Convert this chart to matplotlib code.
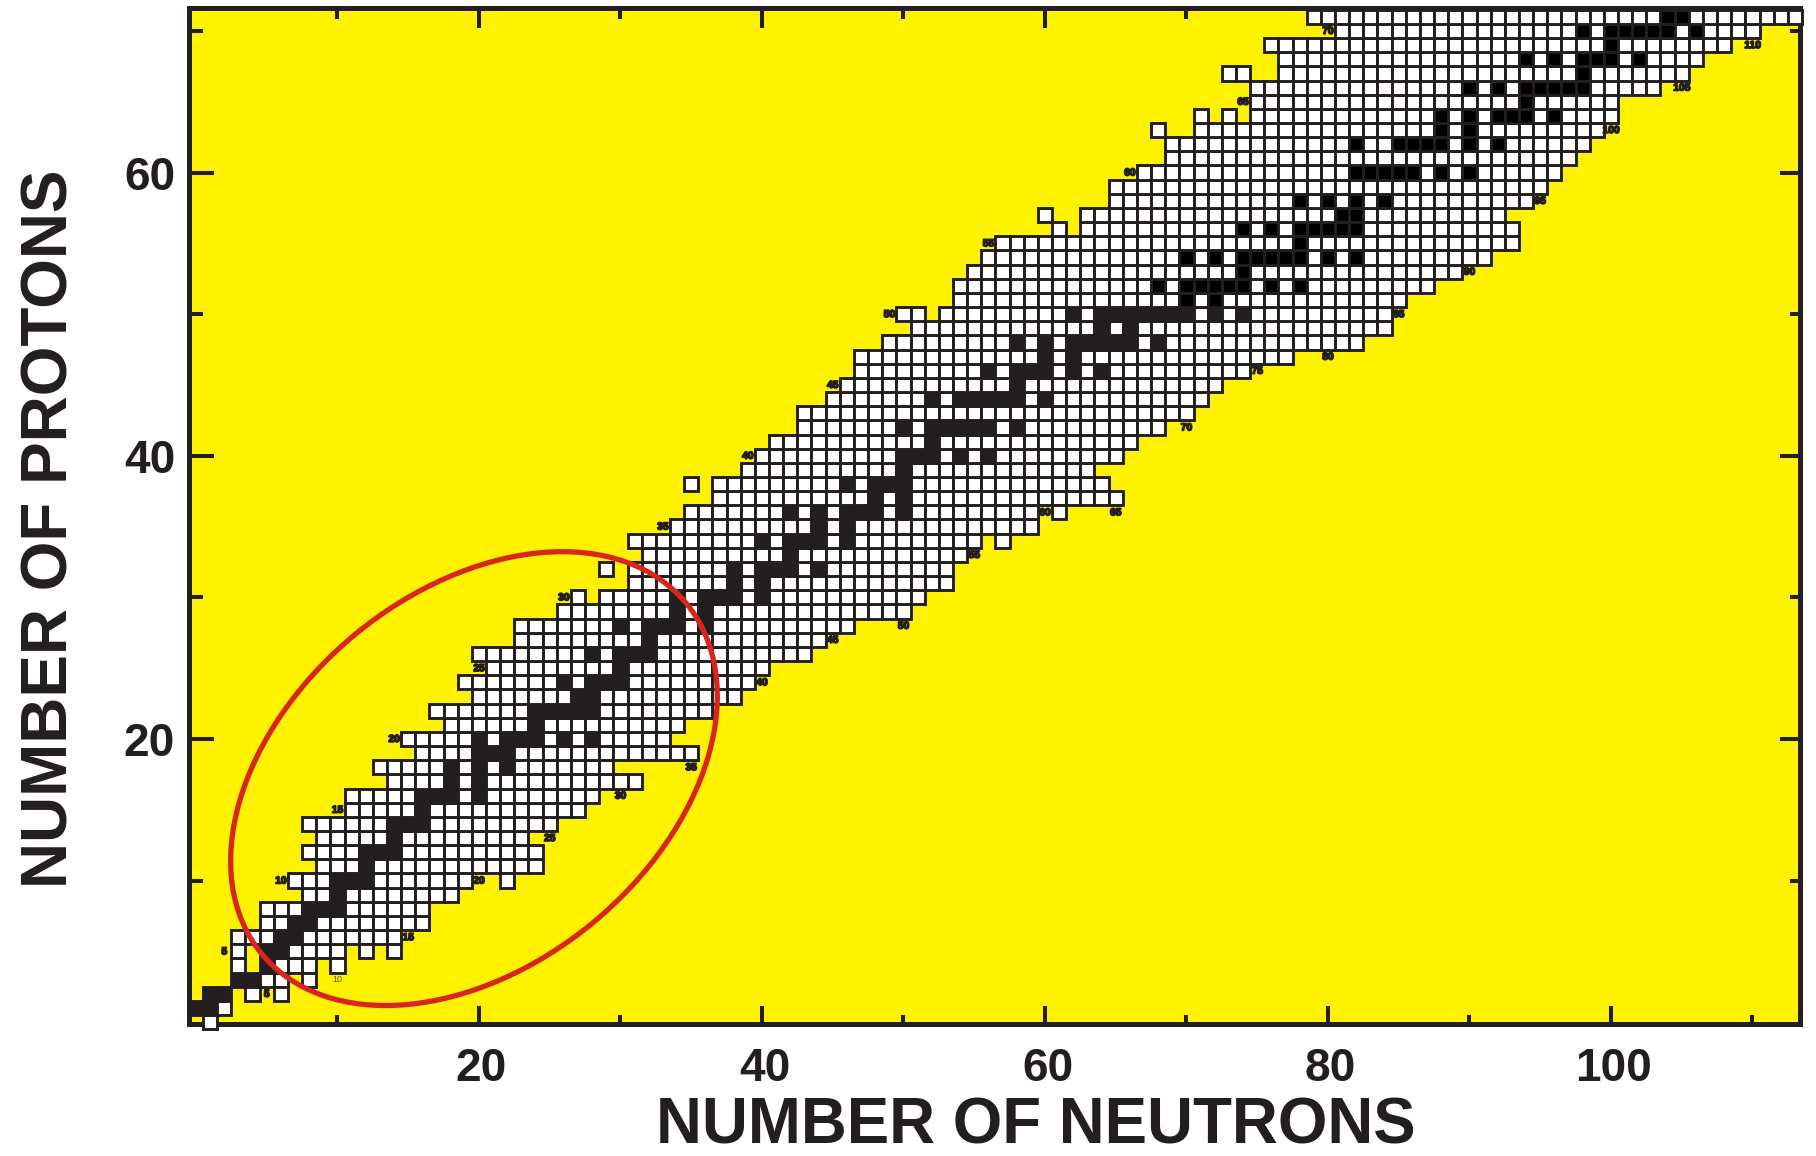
import matplotlib
matplotlib.use('Agg')
import matplotlib.pyplot as plt
import matplotlib.patheffects as pe
import matplotlib.transforms as mtrans
from matplotlib.patches import Rectangle, Ellipse

plt.rcParams['font.family'] = ['Liberation Sans', 'DejaVu Sans']

# first and last neutron number of the continuous run in each row, index = proton number
first_n = [1, 0, 1, 3, 5, 5, 3, 5, 5, 8, 7, 9, 8, 9, 8, 11, 11, 14, 13, 16,
           15, 18, 17, 20, 19, 21, 20, 23, 23, 26, 29, 31, 31, 32, 31, 34, 35, 37, 37, 39,
           40, 41, 43, 43, 45, 46, 47, 47, 49, 51, 53, 54, 54, 55, 56, 57, 63, 63, 65, 65,
           67, 69, 69, 71, 75, 75, 75, 77, 77, 76, 81, 79]
last_n = [1, 2, 2, 6, 8, 10, 14, 16, 16, 18, 19, 24, 24, 23, 25, 27, 28, 31, 29, 35,
          33, 34, 36, 38, 39, 40, 43, 44, 46, 50, 51, 53, 53, 54, 55, 59, 59, 65, 64, 63,
          65, 66, 68, 70, 71, 72, 74, 77, 82, 84, 84, 85, 87, 89, 91, 93, 93, 92, 94, 95,
          96, 97, 98, 99, 100, 100, 103, 105, 106, 108, 110, 113]

# isolated cells outside the runs
extra_n = [4, 6, 8, 3, 10, 3, 12, 14, 22, 27, 29, 57, 61, 35, 50, 51, 61, 60, 68, 71, 73, 73, 74]
extra_z = [2, 2, 3, 4, 4, 5, 5, 5, 10, 30, 32, 34, 36, 38, 50, 50, 56, 57, 63, 64, 64, 67, 67]

# stable nuclei, index = proton number
stable_n = [
    [], [0, 1], [1, 2], [3, 4], [5], [5, 6], [6, 7], [7, 8], [8, 9, 10], [10],
    [10, 11, 12], [12], [12, 13, 14], [14], [14, 15, 16], [16], [16, 17, 18, 20], [18, 20], [18, 20, 22], [20, 21, 22],
    [20, 22, 23, 24, 26, 28], [24], [24, 25, 26, 27, 28], [27, 28], [26, 28, 29, 30], [30], [28, 30, 31, 32], [32],
    [30, 32, 33, 34, 36], [34, 36],
    [34, 36, 37, 38, 40], [38, 40], [38, 40, 41, 42, 44], [42], [40, 42, 43, 44, 46], [44, 46],
    [42, 44, 46, 47, 48, 50], [48, 50], [46, 48, 49, 50], [50],
    [50, 51, 52, 54, 56], [52], [50, 52, 53, 54, 55, 56, 58], [], [52, 54, 55, 56, 57, 58, 60], [58],
    [56, 58, 59, 60, 62, 64], [60, 62], [58, 60, 62, 63, 64, 65, 66, 68], [64, 66],
    [62, 64, 65, 66, 67, 68, 69, 70, 72, 74], [70, 72], [68, 70, 71, 72, 73, 74, 76, 78], [74],
    [70, 72, 74, 75, 76, 77, 78, 80, 82], [78], [74, 76, 78, 79, 80, 81, 82], [81, 82], [78, 80, 82, 84], [],
    [82, 83, 84, 85, 86, 88, 90], [], [82, 85, 86, 87, 88, 90, 92], [88, 90], [88, 90, 92, 93, 94, 96], [94],
    [90, 92, 94, 95, 96, 97, 98], [98], [94, 96, 98, 99, 100, 102], [100],
    [98, 100, 101, 102, 103, 104, 106], [104, 105],
]

# small labels beside the chart edge
iso_labels = [5, 15, 20, 25, 30, 35, 40, 45, 50, 55, 60, 65, 70, 75, 80, 85, 90, 95, 100, 105, 110]
iso_n = [5, 15, 20, 25, 30, 35, 40, 45, 50, 55, 60, 65, 70, 75, 80, 85, 90, 95, 100, 105, 110]
iso_z = [2, 6, 10, 13, 16, 18, 24, 27, 28, 33, 36, 36, 42, 46, 47, 50, 53, 58, 63, 66, 69]
z_labels = [5, 10, 15, 20, 25, 30, 35, 40, 45, 50, 55, 60, 65, 70]
z_label_n = [2, 6, 10, 14, 20, 26, 33, 39, 45, 49, 56, 66, 74, 80]

x_major = [20, 40, 60, 80, 100]
x_minor = [10, 30, 50, 70, 90, 110]
y_major = [20, 40, 60]
y_minor = [10, 30, 50, 70]

DARK = '#231f20'
W, H = 1816, 1156


def add_cell(ax, n, z, is_stable):
    if is_stable and z <= 50:
        face = DARK
    elif is_stable:
        face = 'black'
    else:
        face = 'white'
    ax.add_patch(Rectangle((n - 0.5, z - 0.5), 1, 1, facecolor=face, edgecolor=DARK,
                           linewidth=2.1, clip_on=False, zorder=3))


fig = plt.figure(figsize=(W / 100, H / 100), dpi=100, facecolor='white')
ax = fig.add_axes([189 / W, (H - 1024) / H, (1800 - 189) / W, (1024 - 8) / H])
ax.set_facecolor('#fff200')
ax.set_xlim(-0.49, 113.36)
ax.set_ylim(-0.13, 71.62)

for z in range(len(first_n)):
    for n in range(first_n[z], last_n[z] + 1):
        add_cell(ax, n, z, n in stable_n[z])
for n, z in zip(extra_n, extra_z):
    add_cell(ax, n, z, False)

# red ring around the light nuclei
ax.add_patch(Ellipse((19.65, 17.2), 38.9, 26.4, angle=39.5, fill=False,
                     edgecolor='#d9261c', linewidth=3.8, zorder=5, clip_on=False))

stroke = [pe.withStroke(linewidth=1.1, foreground=DARK)]
for lab, n, z in zip(iso_labels, iso_n, iso_z):
    ax.text(n, z, str(lab), fontsize=7.4, fontweight='bold', color=DARK, ha='center',
            va='center', zorder=4, path_effects=stroke)
for lab, n in zip(z_labels, z_label_n):
    ax.text(n, lab, str(lab), fontsize=7.4, fontweight='bold', color=DARK, ha='center',
            va='center', zorder=4, path_effects=stroke)
ax.text(10, 3, '10', fontsize=6.5, color='#5a5520', ha='center', va='center', zorder=4)

for side in ax.spines.values():
    side.set_linewidth(3.6)
    side.set_color(DARK)

ax.set_xticks(x_major)
ax.set_xticks(x_minor, minor=True)
ax.set_yticks(y_major)
ax.set_yticks(y_minor, minor=True)
ax.set_xticklabels([str(v) for v in x_major])
ax.set_yticklabels([str(v) for v in y_major])
ax.tick_params(which='both', direction='in', width=2.9, color=DARK, top=True, right=True)
ax.tick_params(axis='x', which='major', labelsize=33, labelcolor=DARK, pad=16.5)
ax.tick_params(axis='y', which='major', labelsize=33, labelcolor=DARK, pad=10)
nudge = mtrans.ScaledTranslation(2.5 / 100, 0, fig.dpi_scale_trans)
for lab in ax.get_xticklabels():
    lab.set_fontweight('bold')
    lab.set_transform(lab.get_transform() + nudge)
for lab in ax.get_yticklabels():
    lab.set_fontweight('bold')


def set_lengths(ticks, near, far):
    for t in ticks:
        t.tick1line.set_markersize(near * 0.72)
        t.tick2line.set_markersize(far * 0.72)


set_lengths(ax.xaxis.get_major_ticks(), 18, 20)
set_lengths(ax.xaxis.get_minor_ticks(), 9, 11)
set_lengths(ax.yaxis.get_major_ticks(), 25, 20)
set_lengths(ax.yaxis.get_minor_ticks(), 14, 10)

fig.text(1036 / W, 1 - 1126 / H, 'NUMBER OF NEUTRONS', fontsize=45.8, fontweight='bold', color=DARK,
         ha='center', va='center')
fig.text(51 / W, 1 - 529 / H, 'NUMBER OF PROTONS', fontsize=46, fontweight='bold', color=DARK,
         ha='center', va='center', rotation=90)

fig.savefig('out.png', dpi=100)
